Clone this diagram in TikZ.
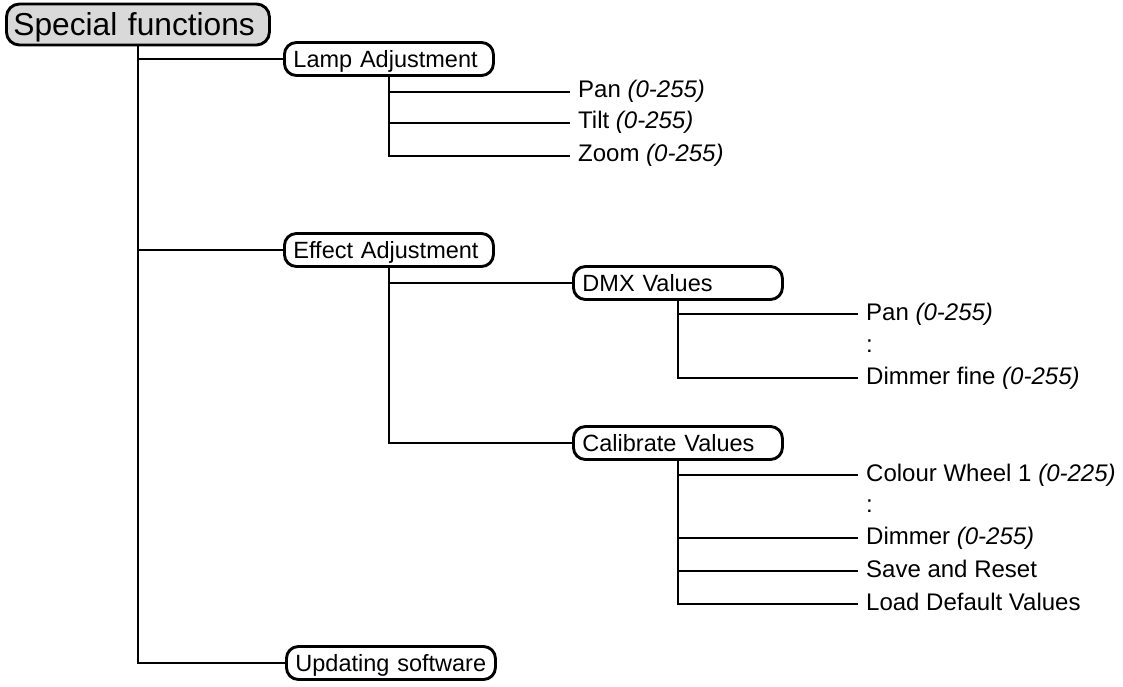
\documentclass[tikz,border=0pt]{standalone}
\usepackage{fontspec}
\setmainfont{Liberation Sans}
\begin{document}
\begin{tikzpicture}[x=1pt,y=-1pt,
  conn/.style={line width=2.9pt},
  box/.style={draw, line width=2.9pt, rounded corners=12pt, anchor=west,
    minimum height=33pt, text width=191pt, align=left, inner xsep=9pt,
    text height=17pt, text depth=0pt, font=\fontsize{23.5}{28}\selectfont},
  topbox/.style={draw, line width=2.9pt, rounded corners=13pt, anchor=west,
    fill=boxgray, minimum height=41pt, text width=249pt, align=left, inner xsep=7pt,
    text height=22.7pt, text depth=0pt, font=\fontsize{31.7}{36}\selectfont},
  lbl/.style={anchor=west, inner xsep=8pt, inner ysep=0pt,
    text height=17pt, text depth=5pt, font=\fontsize{24}{28}\selectfont}
]
\definecolor{boxgray}{RGB}{217,217,217}
\useasboundingbox (0,0) rectangle (1123,687);

% nodes
\node[topbox] (sf) at (5,24.5) {Special functions};
\node[box] (lamp) at (283,59) {Lamp Adjustment};
\node[box] (eff) at (283,250) {Effect Adjustment};
\node[box] (upd) at (285,663) {Updating software};
\node[box] (dmx) at (572,283) {DMX Values};
\node[box] (cal) at (572,443) {Calibrate Values};

\node[lbl] (lp) at (570,92) {Pan \textit{(0-255)}};
\node[lbl] (lt) at (570,123) {Tilt \textit{(0-255)}};
\node[lbl] (lz) at (570,156) {Zoom \textit{(0-255)}};

\node[lbl] (dp) at (858,314) {Pan \textit{(0-255)}};
\node[lbl] (dc) at (858,346) {:};
\node[lbl] (dd) at (858,378) {Dimmer fine \textit{(0-255)}};

\node[lbl] (cw) at (858,475) {Colour Wheel 1 \textit{(0-225)}};
\node[lbl] (cc) at (858,506) {:};
\node[lbl] (cd) at (858,538) {Dimmer \textit{(0-255)}};
\node[lbl] (cs) at (858,571) {Save and Reset};
\node[lbl] (cl) at (858,604) {Load Default Values};

% connectors
\draw[conn] (sf.south) |- (lamp.west);
\draw[conn] (sf.south) |- (eff.west);
\draw[conn] (sf.south) |- (upd.west);

\draw[conn] (lamp.south) |- (lp.west);
\draw[conn] (lamp.south) |- (lt.west);
\draw[conn] (lamp.south) |- (lz.west);

\draw[conn] (eff.south) |- (dmx.west);
\draw[conn] (eff.south) |- (cal.west);

\draw[conn] (dmx.south) |- (dp.west);
\draw[conn] (dmx.south) |- (dd.west);

\draw[conn] (cal.south) |- (cw.west);
\draw[conn] (cal.south) |- (cd.west);
\draw[conn] (cal.south) |- (cs.west);
\draw[conn] (cal.south) |- (cl.west);
\end{tikzpicture}
\end{document}
